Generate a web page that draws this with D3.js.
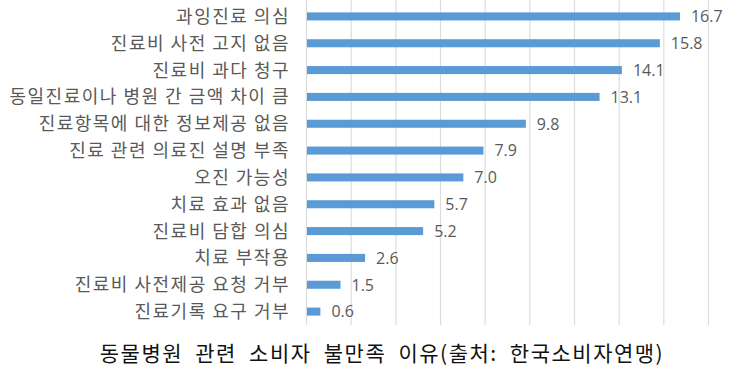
<!DOCTYPE html>
<html>
<head>
<meta charset="utf-8">
<script src="https://cdn.jsdelivr.net/npm/d3@7"></script>
<style>
  body { margin: 0; background: #fff; }
</style>
</head>
<body>
<script>
// data
const reasons = [
  "과잉진료 의심",
  "진료비 사전 고지 없음",
  "진료비 과다 청구",
  "동일진료이나 병원 간 금액 차이 큼",
  "진료항목에 대한 정보제공 없음",
  "진료 관련 의료진 설명 부족",
  "오진 가능성",
  "치료 효과 없음",
  "진료비 담합 의심",
  "치료 부작용",
  "진료비 사전제공 요청 거부",
  "진료기록 요구 거부"
];
const percents = [16.7, 15.8, 14.1, 13.1, 9.8, 7.9, 7.0, 5.7, 5.2, 2.6, 1.5, 0.6];
const gridTicks = [0, 2, 4, 6, 8, 10, 12, 14, 16, 18];
const caption = "동물병원 관련 소비자 불만족 이유(출처: 한국소비자연맹)";

const W = 750, H = 376;
const svg = d3.select("body").append("svg")
  .attr("width", W)
  .attr("height", H);

const x = d3.scaleLinear().domain([0, 18]).range([306, 708]);
const y = d3.scaleBand().domain(reasons).range([3, 325]).paddingInner(0.7).paddingOuter(0.35);

const rows = reasons.map((r, i) => ({ name: r, v: percents[i] }));

// vertical gridlines
svg.append("g")
  .selectAll("line")
  .data(gridTicks)
  .enter()
    .append("line")
      .attr("x1", d => x(d) + 0.5)
      .attr("x2", d => x(d) + 0.5)
      .attr("y1", 0)
      .attr("y2", 325)
      .attr("stroke", "#dcdcdc")
      .attr("stroke-width", 1.2);

// bars
svg.append("g")
  .selectAll("rect")
  .data(rows)
  .enter()
    .append("rect")
      .attr("x", x(0) + 1)
      .attr("y", d => y(d.name))
      .attr("width", d => x(d.v) - x(0))
      .attr("height", y.bandwidth())
      .attr("fill", "#5b9bd5");

// category labels
svg.append("g")
  .selectAll("text")
  .data(rows)
  .enter()
    .append("text")
      .attr("x", 290)
      .attr("y", d => y(d.name) + y.bandwidth() / 2)
      .attr("dy", "0.36em")
      .attr("text-anchor", "end")
      .attr("font-family", "'Noto Sans CJK KR', sans-serif")
      .attr("font-size", "18px")
      .attr("letter-spacing", "1.5px")
      .attr("fill", "#595959")
      .text(d => d.name);

// value labels
svg.append("g")
  .selectAll("text")
  .data(rows)
  .enter()
    .append("text")
      .attr("x", d => x(d.v) + 12)
      .attr("y", d => y(d.name) + y.bandwidth() / 2)
      .attr("dy", "0.36em")
      .attr("font-family", "'Open Sans', sans-serif")
      .attr("font-size", "16px")
      .attr("fill", "#595959")
      .text(d => d.v.toFixed(1));

// caption under the chart
svg.append("text")
  .attr("x", 382)
  .attr("y", 361)
  .attr("text-anchor", "middle")
  .attr("font-family", "'Noto Sans CJK KR', sans-serif")
  .attr("font-size", "21px")
  .attr("letter-spacing", "1.5px")
  .attr("word-spacing", "6px")
  .attr("fill", "#111")
  .text(caption);
</script>
</body>
</html>
